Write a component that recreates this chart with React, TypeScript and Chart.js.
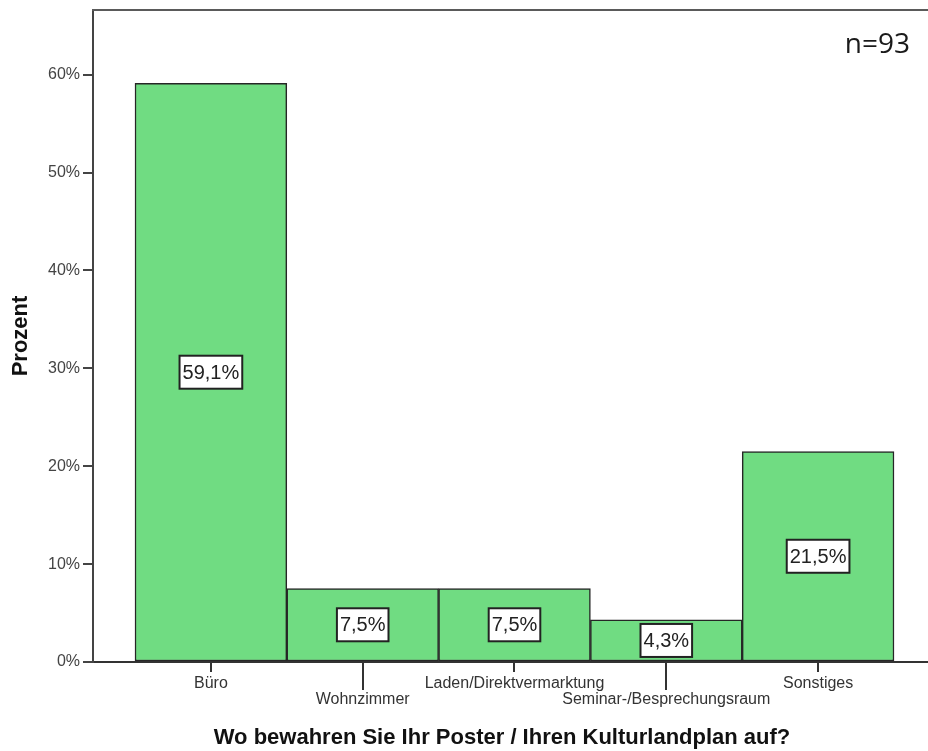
import React, { useEffect, useRef } from 'react';
import { Chart, registerables } from 'chart.js';

Chart.register(...registerables);

const categories = ['Büro', 'Wohnzimmer', 'Laden/Direktvermarktung', 'Seminar-/Besprechungsraum', 'Sonstiges'];
const percentValues = [59.1, 7.5, 7.5, 4.3, 21.5];
const valueLabels = ['59,1%', '7,5%', '7,5%', '4,3%', '21,5%'];
const yTickValues = [0, 10, 20, 30, 40, 50, 60];
const yAxisTitle = 'Prozent';
const xAxisTitle = 'Wo bewahren Sie Ihr Poster / Ihren Kulturlandplan auf?';
const sampleNote = 'n=93';

const FONT = '"Liberation Sans", Arial, sans-serif';

const decorPlugin = {
  id: 'decor',
  afterDatasetsDraw(chart: any) {
    const { ctx, chartArea } = chart;
    const xScale = chart.scales.x;
    const meta = chart.getDatasetMeta(0);
    ctx.save();

    // top frame line
    ctx.strokeStyle = '#5a5a5a';
    ctx.lineWidth = 2;
    ctx.beginPath();
    ctx.moveTo(chartArea.left - 1, chartArea.top);
    ctx.lineTo(chart.width, chartArea.top);
    ctx.stroke();

    // x tick marks (staggered)
    ctx.strokeStyle = '#333';
    ctx.lineWidth = 2;
    categories.forEach((_, i) => {
      const px = Math.round(xScale.getPixelForValue(i));
      ctx.beginPath();
      ctx.moveTo(px, chartArea.bottom);
      ctx.lineTo(px, chartArea.bottom + (i % 2 ? 28 : 10));
      ctx.stroke();
    });

    // value label boxes
    ctx.font = '20px ' + FONT;
    ctx.textAlign = 'center';
    ctx.textBaseline = 'middle';
    meta.data.forEach((bar: any, i: number) => {
      const { x, y, base } = bar.getProps(['x', 'y', 'base'], true);
      const cy = (y + base) / 2;
      const text = valueLabels[i];
      const w = ctx.measureText(text).width + 6;
      const h = 33;
      ctx.fillStyle = '#ffffff';
      ctx.fillRect(x - w / 2, cy - h / 2, w, h);
      ctx.lineWidth = 2;
      ctx.strokeStyle = '#222';
      ctx.strokeRect(x - w / 2, cy - h / 2, w, h);
      ctx.fillStyle = '#222';
      ctx.fillText(text, x, cy + 1);
    });

    // x axis title
    ctx.font = 'bold 22px ' + FONT;
    ctx.textAlign = 'center';
    ctx.textBaseline = 'alphabetic';
    ctx.fillStyle = '#111';
    ctx.fillText(xAxisTitle, 502, 744);

    // sample size note
    ctx.font = '28px "Open Sans", "Noto Sans", sans-serif';
    ctx.textAlign = 'right';
    ctx.textBaseline = 'alphabetic';
    ctx.fillStyle = '#1a1a1a';
    ctx.fillText(sampleNote, 910, 53);

    ctx.restore();
  },
};

export default function App() {
  const ref = useRef<HTMLCanvasElement>(null);

  useEffect(() => {
    const canvas = ref.current;
    if (!canvas) return;
    Chart.defaults.font.family = FONT;
    const chart = new Chart(canvas, {
      type: 'bar',
      data: {
        datasets: [
          {
            data: percentValues.map((v, i) => ({ x: i, y: v })),
            backgroundColor: '#70dc82',
            borderColor: '#262626',
            borderWidth: 1.5,
            borderSkipped: false,
            barPercentage: 1,
            categoryPercentage: 1,
          },
        ],
      },
      options: {
        animation: false,
        responsive: false,
        devicePixelRatio: 1,
        layout: { padding: { top: 10, right: 0, left: 0, bottom: 0 } },
        plugins: {
          legend: { display: false },
          tooltip: { enabled: false },
        },
        scales: {
          x: {
            type: 'linear',
            min: -0.7767,
            max: 4.724,
            offset: false,
            grid: { display: false, drawTicks: true, tickLength: 10, offset: false },
            border: { display: true, color: '#333', width: 2 },
            afterBuildTicks: (scale: any) => {
              scale.ticks = categories.map((_, i) => ({ value: i }));
            },
            afterFit: (scale: any) => {
              scale.height = 89;
            },
            ticks: {
              autoSkip: false,
              maxRotation: 0,
              minRotation: 0,
              padding: 4,
              color: '#333',
              font: { size: 16, lineHeight: 1, family: FONT },
              callback: (value: any) => {
                const i = Math.round(Number(value));
                const label = categories[i] ?? '';
                return i % 2 ? ['', label] : label;
              },
            },
            title: { display: false, text: xAxisTitle },
          },
          y: {
            type: 'linear',
            min: 0,
            max: 66.6,
            afterBuildTicks: (scale: any) => {
              scale.ticks = yTickValues.map((v) => ({ value: v }));
            },
            afterFit: (scale: any) => {
              scale.width = 93;
              scale.paddingTop = 0;
              scale.paddingBottom = 0;
            },
            grid: {
              display: true,
              drawOnChartArea: false,
              drawTicks: true,
              tickLength: 10,
              color: '#444',
              lineWidth: 2,
            },
            border: { display: true, color: '#444', width: 2 },
            ticks: {
              padding: 3,
              color: '#444',
              font: { size: 16, lineHeight: 1, family: FONT },
              callback: (value: any) => `${value}%`,
            },
            title: {
              display: true,
              text: yAxisTitle,
              color: '#111',
              padding: { top: 8, bottom: 0 },
              font: { size: 22, weight: 'bold', lineHeight: 1.2, family: FONT },
            },
          },
        },
      } as any,
      plugins: [decorPlugin],
    });
    return () => chart.destroy();
  }, []);

  return (
    <div style={{ position: 'absolute', left: 0, top: 0, width: 928, height: 751, background: '#ffffff' }}>
      <canvas ref={ref} width={928} height={751} style={{ display: 'block', width: 928, height: 751 }} />
    </div>
  );
}
